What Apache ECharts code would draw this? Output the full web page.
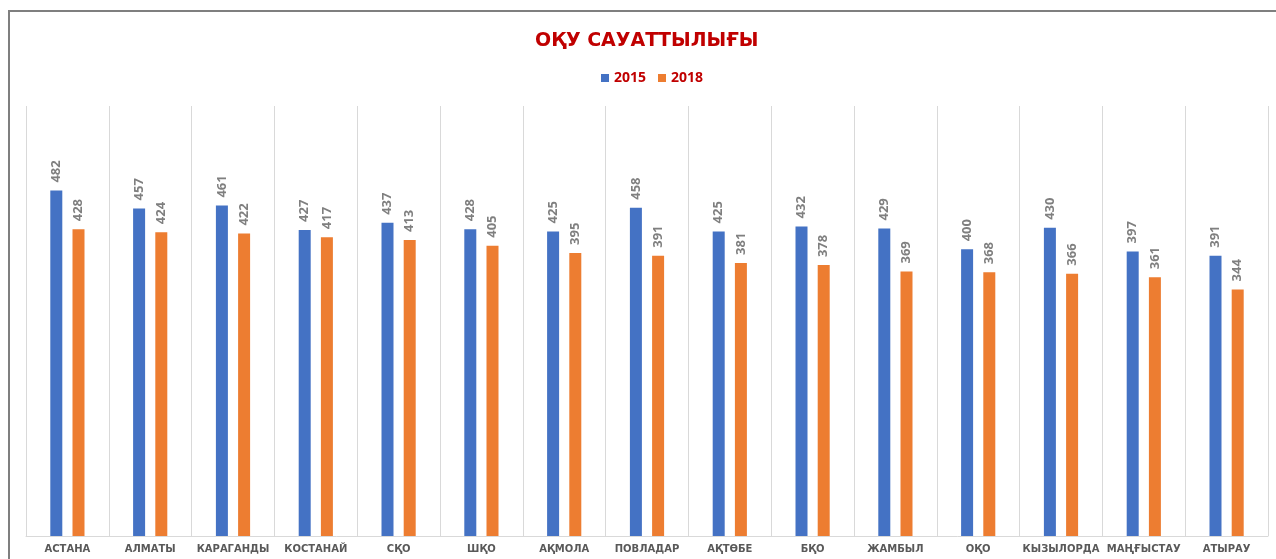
<!DOCTYPE html>
<html><head><meta charset="utf-8">
<script src="https://cdn.jsdelivr.net/npm/echarts@6/dist/echarts.min.js"></script>
<style>html,body{margin:0;padding:0;background:#fff}#c{width:1276px;height:559px}</style>
</head><body><div id="c"></div>
<script>
const categories = ['АСТАНА','АЛМАТЫ','КАРАГАНДЫ','КОСТАНАЙ','СҚО','ШҚО','АҚМОЛА','ПОВЛАДАР','АҚТӨБЕ','БҚО','ЖАМБЫЛ','ОҚО','КЫЗЫЛОРДА','МАҢҒЫСТАУ','АТЫРАУ'];
const values2015 = [482,457,461,427,437,428,425,458,425,432,429,400,430,397,391];
const values2018 = [428,424,422,417,413,405,395,391,381,378,369,368,366,361,344];
const seriesNames = ['2015','2018'];
const titleText = 'ОҚУ САУАТТЫЛЫҒЫ';

const chart = echarts.init(document.getElementById('c'), null, {renderer:'canvas'});
const lbl = {show:true, position:'top', rotate:90, align:'left', verticalAlign:'middle', distance:8,
  color:'#7f7f7f', fontWeight:'bold', fontSize:13, fontFamily:'Open Sans'};
chart.setOption({
  animation:false,
  backgroundColor:'#fff',
  graphic:[{type:'rect', shape:{x:9, y:11, width:1400, height:700}, style:{fill:'none', stroke:'#7f7f7f', lineWidth:2}, silent:true}],
  title:{text:titleText, left:530, top:27, textStyle:{color:'#c00000', fontSize:19, fontWeight:'bold', fontFamily:'DejaVu Sans'}},
  legend:{data:seriesNames, top:66, left:596, itemWidth:8, itemHeight:8, itemGap:12, icon:'rect',
    textStyle:{color:'#c00000', fontWeight:'bold', fontSize:14, fontFamily:'Open Sans'}},
  grid:{left:26, right:8, top:106, bottom:23},
  xAxis:{type:'category', data:categories, boundaryGap:true,
    axisLine:{lineStyle:{color:'#d9d9d9'}}, axisTick:{show:false},
    splitLine:{show:true, interval:0, lineStyle:{color:'#d9d9d9'}},
    axisLabel:{interval:0, color:'#595959', fontWeight:'bold', fontSize:10, margin:8, fontFamily:'DejaVu Sans'}},
  yAxis:{type:'value', min:0, max:600, show:false, splitLine:{show:false}},
  series:[
    {name:seriesNames[0], type:'bar', data:values2015, barWidth:12, barGap:'85%', itemStyle:{color:'#4472c4'}, label:lbl},
    {name:seriesNames[1], type:'bar', data:values2018, barWidth:12, barGap:'85%', itemStyle:{color:'#ed7d31'}, label:lbl}
  ]
});
</script></body></html>
